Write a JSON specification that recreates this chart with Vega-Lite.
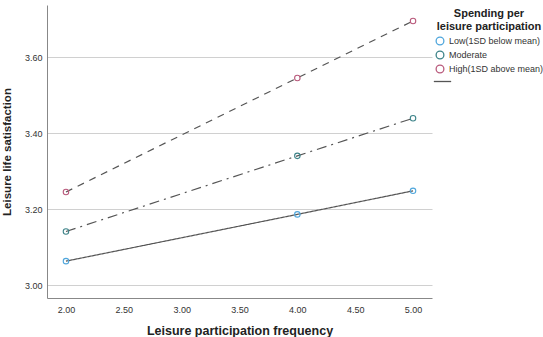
{
  "$schema": "https://vega.github.io/schema/vega-lite/v6.json",
  "autosize": {"type": "none"},
  "width": 385,
  "height": 293,
  "padding": {"left": 47, "top": 5, "right": 111, "bottom": 39},
  "background": "white",
  "config": {
    "view": {"stroke": null},
    "font": "Liberation Sans",
    "axis": {"labelFont": "Liberation Sans", "titleFont": "Liberation Sans"},
    "legend": {"labelFont": "Liberation Sans", "titleFont": "Liberation Sans"}
  },
  "data": {
    "values": [
      {"freq": 2, "sat": 3.063, "group": "Low(1SD below mean)"},
      {"freq": 4, "sat": 3.186, "group": "Low(1SD below mean)"},
      {"freq": 5, "sat": 3.248, "group": "Low(1SD below mean)"},
      {"freq": 2, "sat": 3.141, "group": "Moderate"},
      {"freq": 4, "sat": 3.340, "group": "Moderate"},
      {"freq": 5, "sat": 3.439, "group": "Moderate"},
      {"freq": 2, "sat": 3.245, "group": "High(1SD above mean)"},
      {"freq": 4, "sat": 3.545, "group": "High(1SD above mean)"},
      {"freq": 5, "sat": 3.695, "group": "High(1SD above mean)"}
    ]
  },
  "encoding": {
    "x": {
      "field": "freq", "type": "quantitative",
      "scale": {"domain": [1.836, 5.164], "nice": false, "zero": false},
      "axis": {
        "values": [2, 2.5, 3, 3.5, 4, 4.5, 5], "format": ".2f",
        "title": "Leisure participation frequency",
        "grid": false, "ticks": false, "domainColor": "#888888", "domainWidth": 1,
        "labelFontSize": 9, "labelColor": "#333333", "labelPadding": 7,
        "titleFontSize": 12.5, "titleFontWeight": "bold", "titleColor": "#222222", "titlePadding": 10
      }
    },
    "y": {
      "field": "sat", "type": "quantitative",
      "scale": {"domain": [2.966, 3.737], "nice": false, "zero": false},
      "axis": {
        "values": [3.0, 3.2, 3.4, 3.6], "format": ".2f",
        "title": "Leisure life satisfaction",
        "grid": true, "gridColor": "#d0d0d0", "gridWidth": 1,
        "ticks": false, "domainColor": "#888888", "domainWidth": 1,
        "labelFontSize": 9, "labelColor": "#333333", "labelPadding": 5,
        "titleFontSize": 11.5, "titleFontWeight": "bold", "titleColor": "#222222", "titlePadding": 12
      }
    }
  },
  "resolve": {"legend": {"color": "independent", "strokeDash": "independent", "stroke": "independent"}},
  "layer": [
    {
      "mark": {"type": "line", "strokeWidth": 1.2},
      "encoding": {
        "detail": {"field": "group"},
        "stroke": {
          "datum": " ", "type": "nominal",
          "scale": {"range": ["#555555"]},
          "legend": {
            "title": null, "symbolType": "stroke", "symbolSize": 300, "symbolStrokeWidth": 1.3,
            "labelFontSize": 9,
            "orient": "none", "legendX": 386, "legendY": 67
          }
        },
        "strokeDash": {
          "field": "group", "type": "nominal",
          "scale": {
            "domain": ["Low(1SD below mean)", "Moderate", "High(1SD above mean)"],
            "range": [[1, 0], [10, 5, 2, 5], [7, 6]]
          },
          "legend": null
        }
      }
    },
    {
      "mark": {"type": "point", "filled": false, "size": 30, "strokeWidth": 1.1, "opacity": 1},
      "encoding": {
        "color": {
          "field": "group", "type": "nominal",
          "scale": {
            "domain": ["Low(1SD below mean)", "Moderate", "High(1SD above mean)"],
            "range": ["#4fa6dc", "#3d8389", "#b95a7c"]
          },
          "legend": {
            "title": ["Spending per", "leisure participation"],
            "titleFontSize": 11, "titleFontWeight": "bold", "titleColor": "#222222",
            "titleAnchor": "middle", "titleAlign": "center", "titleLineHeight": 13, "titlePadding": 4,
            "labelFontSize": 9, "labelColor": "#333333", "labelOffset": 4,
            "symbolType": "circle", "symbolSize": 60, "symbolFillColor": "white", "symbolStrokeWidth": 1.3,
            "rowPadding": 0,
            "orient": "none", "legendX": 388, "legendY": 3
          }
        }
      }
    }
  ]
}
